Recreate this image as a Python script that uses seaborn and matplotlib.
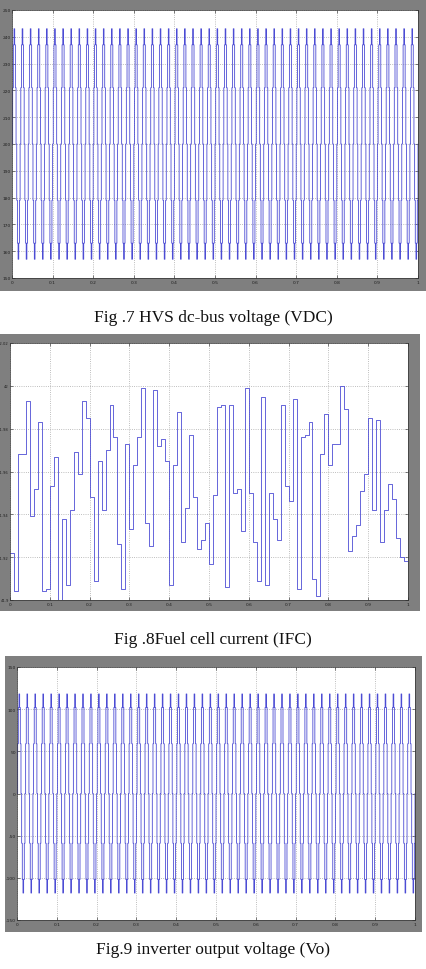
import numpy as np
import pandas as pd
import matplotlib
matplotlib.use("Agg")
import matplotlib.pyplot as plt
from matplotlib.patches import Rectangle
import seaborn as sns

# ---------------------------------------------------------
# data
# ---------------------------------------------------------
# Fig.7: dc-bus voltage, one 50 Hz cycle of the held samples, repeated 50 times
vdc_cycle = [200, 221, 237, 243, 237, 221, 200, 179, 163, 157, 163, 179]
vdc_cycles = 50

# Fig.8: fuel cell current, one held value every 10 ms (last value is the jump at t=1)
ifc_values = [
    41.922, 41.904, 41.968, 41.968, 41.993, 41.939, 41.952, 41.983, 41.904, 41.905,
    41.953, 41.967, 41.899, 41.938, 41.907, 41.942, 41.969, 41.959, 41.993, 41.985,
    41.948, 41.909, 41.965, 41.942, 41.970, 41.991, 41.976, 41.926, 41.905, 41.973,
    41.933, 41.963, 41.976, 41.999, 41.936, 41.925, 41.998, 41.972, 41.975, 41.965,
    41.907, 41.963, 41.988, 41.927, 41.943, 41.977, 41.948, 41.924, 41.928, 41.936,
    41.917, 41.949, 41.990, 41.991, 41.906, 41.991, 41.950, 41.952, 41.932, 41.999,
    41.950, 41.927, 41.909, 41.995, 41.907, 41.950, 41.938, 41.928, 41.991, 41.953,
    41.946, 41.994, 41.905, 41.976, 41.977, 41.983, 41.910, 41.902, 41.968, 41.987,
    41.963, 41.973, 41.973, 42.000, 41.989, 41.923, 41.930, 41.935, 41.951, 41.959,
    41.985, 41.942, 41.984, 41.927, 41.942, 41.954, 41.947, 41.929, 41.920, 41.918,
    41.957,
]
ifc_step = 0.01

# Fig.9: inverter output voltage, one 50 Hz cycle of held samples, repeated 50 times
vo_cycle = [0, 59, 102, 118, 102, 59, 0, -59, -102, -118, -102, -59]
vo_cycles = 50

x_ticks = [0, 0.1, 0.2, 0.3, 0.4, 0.5, 0.6, 0.7, 0.8, 0.9, 1]
x_labels = ["0", "0.1", "0.2", "0.3", "0.4", "0.5", "0.6", "0.7", "0.8", "0.9", "1"]
vdc_ticks = [150, 160, 170, 180, 190, 200, 210, 220, 230, 240, 250]
ifc_ticks = [41.9, 41.92, 41.94, 41.96, 41.98, 42, 42.02]
ifc_labels = ["41.9", "41.92", "41.94", "41.96", "41.98", "42", "42.02"]
vo_ticks = [-150, -100, -50, 0, 50, 100, 150]

captions = ["Fig .7 HVS dc-bus voltage (VDC)",
            "Fig .8Fuel cell current (IFC)",
            "Fig.9 inverter output voltage (Vo)"]


def periodic_frame(cycle, n_cycles, period=0.02):
    vals = np.tile(np.asarray(cycle, dtype=float), n_cycles)
    t = np.arange(len(vals)) * (period / len(cycle))
    vals = np.append(vals, cycle[0])
    t = np.append(t, n_cycles * period)
    return pd.DataFrame({"t": t, "v": vals})


vdc_df = periodic_frame(vdc_cycle, vdc_cycles)
vo_df = periodic_frame(vo_cycle, vo_cycles)
ifc_df = pd.DataFrame({"t": np.arange(len(ifc_values)) * ifc_step, "v": ifc_values})

# ---------------------------------------------------------
# figure
# ---------------------------------------------------------
sns.set_style("white")
W, H = 426, 970
fig = plt.figure(figsize=(W / 100, H / 100), dpi=100)
fig.patch.set_facecolor("white")


def px_box(l, t, r, b):
    return [l / W, 1 - b / H, (r - l) / W, (b - t) / H]


def scope_panel(frame_box, ax_box, df, yticks, ylabels, ylim, ysize=3.2):
    l, t, r, b = frame_box
    fig.add_artist(Rectangle((l / W, 1 - b / H), (r - l) / W, (b - t) / H,
                             transform=fig.transFigure, facecolor="#7f7f7f",
                             edgecolor="none", zorder=0))
    ax = fig.add_axes(px_box(*ax_box))
    ax.set_facecolor("white")
    sns.lineplot(data=df, x="t", y="v", ax=ax, estimator=None, sort=False,
                 drawstyle="steps-post", color="#4c4cd4", linewidth=0.6)
    ax.set_xlim(0, 1)
    ax.set_ylim(*ylim)
    ax.set_xticks(x_ticks)
    ax.set_xticklabels(x_labels)
    ax.set_yticks(yticks)
    ax.set_yticklabels(ylabels)
    ax.grid(True, linestyle=":", color="#a8a8a8", linewidth=0.6)
    ax.tick_params(direction="in", length=2, width=0.4, labelsize=3.2,
                   pad=1.5, colors="#202020", top=True, right=True,
                   bottom=True, left=True)
    ax.tick_params(axis="y", labelsize=ysize, pad=0.8)
    for s in ax.spines.values():
        s.set_visible(True)
        s.set_color("#303030")
        s.set_linewidth(0.5)
    ax.set_xlabel("")
    ax.set_ylabel("")
    return ax


scope_panel((0, 0, 426, 292), (12, 11, 418, 279), vdc_df,
            vdc_ticks, [str(v) for v in vdc_ticks], (150, 250))
scope_panel((0, 335, 420, 612), (10, 344, 408, 601), ifc_df,
            ifc_ticks, ifc_labels, (41.9, 42.02), ysize=2.7)
scope_panel((5, 657, 422, 933), (17, 668, 415, 921), vo_df,
            vo_ticks, [str(v) for v in vo_ticks], (-150, 150))

for text, y in zip(captions, [318, 640, 950]):
    fig.text(213 / W, 1 - y / H, text, ha="center", va="center",
             fontsize=12.5, family=["Liberation Serif", "DejaVu Serif"],
             color="#111111")

fig.savefig("out.png", dpi=100)
